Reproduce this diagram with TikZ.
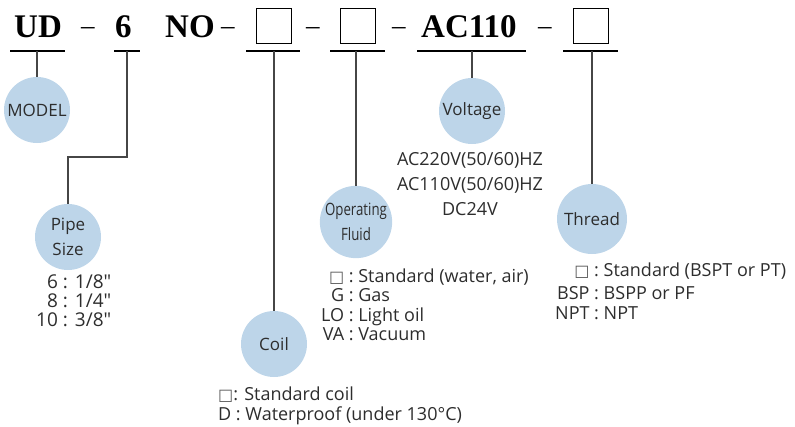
\documentclass[tikz,border=0pt]{standalone}
\usepackage{graphicx}
\usepackage{fontspec}
\setmainfont{Open Sans}[Ligatures=TeXOff]
\newfontfamily\titlefont{Liberation Serif}
\newfontfamily\symfont{DejaVu Sans}
\definecolor{bub}{RGB}{189,213,233}
\definecolor{ink}{RGB}{45,45,45}
\definecolor{wire}{RGB}{70,70,70}
\newcommand{\sqbox}{{\symfont\fontsize{16}{16}\selectfont\color{ink!80}□}}
\begin{document}
\begin{tikzpicture}[x=1pt,y=-1pt,
  code/.style={font=\titlefont\bfseries\fontsize{33}{36}\selectfont, inner sep=0pt, anchor=base west},
  hy/.style={font=\titlefont\fontsize{27}{30}\selectfont, inner sep=0pt, anchor=base west},
  slot/.style={draw=black, line width=1.4pt, minimum width=35pt, minimum height=35pt, inner sep=0pt, anchor=north west},
  uline/.style={line width=1.4pt, black},
  conn/.style={line width=1.3pt, wire},
  bubble/.style={circle, fill=bub, inner sep=0pt, minimum size=66pt, font=\fontsize{17}{25}\selectfont, text=ink, align=center},
  lst/.style={text=ink, inner sep=0pt, anchor=base west}]
\useasboundingbox (0,0) rectangle (795,426);

% code line
\node[code] (ud) at (14,37) {UD};
\node[hy] (h1) at (81,34) {–};
\node[code] (six) at (115,37) {6};
\node[code] (no) at (165,37) {NO};
\node[hy] (h2) at (221,34) {–};
\node[slot] (s1) at (256,8) {};
\node[hy] (h3) at (306,34) {–};
\node[slot] (s2) at (340,8) {};
\node[hy] (h4) at (392,34) {–};
\node[code] (ac) at (421,37) {AC110};
\node[hy] (h5) at (538,34) {–};
\node[slot] (s3) at (573,8) {};

% underlines
\coordinate (u1a) at (10,51);  \coordinate (u1b) at (65,51);
\coordinate (u2a) at (114,51); \coordinate (u2b) at (140,51);
\coordinate (u3a) at (246,51); \coordinate (u3b) at (300,51);
\coordinate (u4a) at (330,51); \coordinate (u4b) at (385,51);
\coordinate (u5a) at (417,51); \coordinate (u5b) at (526,51);
\coordinate (u6a) at (563,51); \coordinate (u6b) at (618,51);
\foreach \i in {1,...,6} {\draw[uline] (u\i a) -- (u\i b);}

% bubbles
\node[bubble] (model) at (37,110) {MODEL};
\node[bubble] (voltage) at (472,111) {Voltage};
\node[bubble] (pipe) at (68,237) {Pipe\\Size};
\node[bubble, minimum size=68pt] (fluid) at (356,222) {\scalebox{0.78}[1]{Operating}\\\scalebox{0.78}[1]{Fluid}};
\node[bubble] (coil) at (274,344) {Coil};
\node[bubble, minimum size=70pt] (thread) at (592,219) {Thread};

% connectors
\coordinate (t1) at (37,51);
\coordinate (t2) at (127,51);
\coordinate (b2) at (127,157);
\coordinate (t3) at (274,51);
\coordinate (t4) at (356,51);
\coordinate (t5) at (472,51);
\coordinate (t6) at (592,51);
\draw[conn] (t1) -- (model);
\draw[conn] (t2) -- (b2) -| (pipe);
\draw[conn] (t3) -- (coil);
\draw[conn] (t4) -- (fluid);
\draw[conn] (t5) -- (voltage);
\draw[conn] (t6) -- (thread);

% option lists
\node[lst, anchor=base] (vlist) at (470,165) {\fontsize{18}{25}\selectfont
  \begin{tabular}[t]{@{}c@{}}AC220V(50/60)HZ\\AC110V(50/60)HZ\\DC24V\end{tabular}};
\node[lst] (plist) at (36,288) {\fontsize{19}{18.5}\selectfont
  \begin{tabular}[t]{@{}r@{\hspace{5pt}:\hspace{7pt}}l@{}}6&1/8"\\8&1/4"\\10&3/8"\end{tabular}};
\node[lst] (flist) at (321,282) {\fontsize{18}{19.5}\selectfont
  \begin{tabular}[t]{@{}r@{\ :\ }l@{}}\sqbox&Standard (water, air)\\G&Gas\\LO&Light oil\\VA&Vacuum\end{tabular}};
\node[lst] (clist) at (218,400) {\fontsize{18}{20}\selectfont
  \begin{tabular}[t]{@{}l@{}}\sqbox: Standard coil\\D : Waterproof (under 130°C)\end{tabular}};
\node[lst] (tlist) at (555,276) {\fontsize{18}{20}\selectfont
  \begin{tabular}[t]{@{}r@{\ :\ }l@{}}\sqbox&Standard (BSPT or PT)\\[3pt]BSP&BSPP or PF\\NPT&NPT\end{tabular}};
\end{tikzpicture}
\end{document}
